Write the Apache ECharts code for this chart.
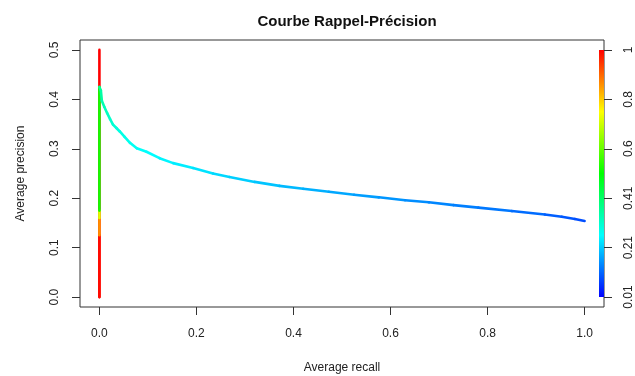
<!DOCTYPE html>
<html>
<head>
<meta charset="utf-8">
<script src="https://cdn.jsdelivr.net/npm/echarts@6/dist/echarts.min.js"></script>
<style>
  html, body { margin: 0; padding: 0; background: #fff; }
  #chart { width: 635px; height: 376px; }
</style>
</head>
<body>
<div id="chart"></div>
<script>
// Averaged precision / recall points, in drawing order, with the cutoff of each point
const recall = [
  0, 0, 0, 0, 0,
  0.000, 0.003, 0.005, 0.010, 0.016, 0.022, 0.028, 0.035, 0.042, 0.052,
  0.063, 0.077, 0.097, 0.124, 0.152, 0.193, 0.234, 0.268, 0.320, 0.371,
  0.420, 0.473, 0.525, 0.576, 0.630, 0.679, 0.730, 0.781, 0.850, 0.918,
  0.953, 0.980, 1.000
];
const precision = [
  0.500, 0.000, 0.125, 0.160, 0.175,
  0.425, 0.418, 0.397, 0.385, 0.372, 0.360, 0.349, 0.342, 0.335, 0.324,
  0.312, 0.301, 0.294, 0.281, 0.271, 0.261, 0.250, 0.243, 0.233, 0.225,
  0.219, 0.213, 0.207, 0.2018, 0.196, 0.1917, 0.186, 0.181, 0.174, 0.167,
  0.1626, 0.158, 0.154
];
const cutoff = [
  1.00, 0.99, 0.86, 0.72, 0.52,
  0.360, 0.345, 0.335, 0.325, 0.315, 0.305, 0.298, 0.290, 0.284, 0.277,
  0.270, 0.263, 0.256, 0.248, 0.240, 0.230, 0.220, 0.210, 0.200, 0.190,
  0.181, 0.172, 0.163, 0.155, 0.147, 0.140, 0.133, 0.126, 0.115, 0.102,
  0.094, 0.086, 0.080
];

// Axis ticks
const xTicks = [0, 0.2, 0.4, 0.6, 0.8, 1.0];
const yTicks = [0, 0.1, 0.2, 0.3, 0.4, 0.5];
// Colour key range and ticks (cutoff values)
const cutoffMin = 0.01;
const cutoffMax = 1.0;
const keyTicks = [0.01, 0.208, 0.406, 0.604, 0.802, 1.0];

// Rainbow palette, low cutoff (blue) to high cutoff (red)
const palette = ['#0000ff', '#00ffff', '#00ff00', '#ffff00', '#ff0000'];

// Each segment joins point i to point i+1 and is coloured by the cutoff of point i
const segments = [];
for (let i = 0; i < recall.length - 1; i++) {
  segments.push([recall[i], precision[i], cutoff[i], recall[i + 1], precision[i + 1]]);
}

// Right-hand axis in cutoff units, aligned so the key spans the 0..0.5 precision range
const yMin = -0.02, yMax = 0.52;
const scale = (cutoffMax - cutoffMin) / (yTicks[yTicks.length - 1] - yTicks[0]);
const kMin = cutoffMin + (yMin - yTicks[0]) * scale;
const kMax = cutoffMin + (yMax - yTicks[0]) * scale;

const FONT = "'Liberation Sans', Arial, Helvetica, sans-serif";
const INK = '#222';

const chart = echarts.init(document.getElementById('chart'), null, { renderer: 'canvas' });

chart.setOption({
  animation: false,
  backgroundColor: '#fff',
  title: {
    text: 'Courbe Rappel-Précision',
    left: 342,
    top: 9,
    textAlign: 'center',
    textStyle: { fontFamily: FONT, fontSize: 15, fontWeight: 'bold', color: '#111' }
  },
  grid: {
    left: 80, right: 31, top: 40, bottom: 69,
    outerBoundsMode: 'none',
    containLabel: false,
    show: true, borderColor: '#333', borderWidth: 1, backgroundColor: 'transparent'
  },
  xAxis: {
    type: 'value',
    min: -0.04, max: 1.04,
    name: 'Average recall',
    nameLocation: 'middle',
    nameGap: 55,
    nameTextStyle: { fontFamily: FONT, fontSize: 12, color: INK },
    axisLine: { show: false, onZero: false },
    splitLine: { show: false },
    axisTick: { show: true, length: 8, customValues: xTicks, lineStyle: { color: '#333' } },
    axisLabel: {
      customValues: xTicks, margin: 21,
      fontFamily: FONT, fontSize: 12, color: INK,
      formatter: v => v.toFixed(1)
    }
  },
  yAxis: [{
    type: 'value',
    min: yMin, max: yMax,
    name: 'Average precision',
    nameLocation: 'middle',
    nameGap: 53,
    nameTextStyle: { fontFamily: FONT, fontSize: 12, color: INK },
    axisLine: { show: false, onZero: false },
    splitLine: { show: false },
    axisTick: { show: true, length: 8, customValues: yTicks, lineStyle: { color: '#333' } },
    axisLabel: {
      customValues: yTicks, margin: 19, rotate: 90,
      fontFamily: FONT, fontSize: 12, color: INK,
      formatter: v => v.toFixed(1)
    }
  }, {
    type: 'value',
    position: 'right',
    min: kMin, max: kMax,
    axisLine: { show: false, onZero: false },
    splitLine: { show: false },
    axisTick: { show: true, length: 8, customValues: keyTicks, lineStyle: { color: '#333' } },
    axisLabel: {
      customValues: keyTicks, margin: 19, rotate: 90,
      fontFamily: FONT, fontSize: 12, color: INK,
      formatter: v => String(parseFloat(v.toFixed(2)))
    }
  }],
  visualMap: {
    type: 'continuous',
    show: false,
    seriesIndex: 0,
    dimension: 2,
    min: cutoffMin,
    max: cutoffMax,
    inRange: { color: palette }
  },
  series: [{
    // precision / recall curve, coloured by cutoff
    type: 'custom',
    coordinateSystem: 'cartesian2d',
    xAxisIndex: 0,
    yAxisIndex: 0,
    encode: { x: [0, 3], y: [1, 4] },
    data: segments,
    renderItem: function (params, api) {
      const a = api.coord([api.value(0), api.value(1)]);
      const b = api.coord([api.value(3), api.value(4)]);
      return {
        type: 'line',
        shape: { x1: a[0], y1: a[1], x2: b[0], y2: b[1] },
        style: { stroke: api.visual('color'), lineWidth: 2.6, lineCap: 'round' }
      };
    }
  }, {
    // colour key along the right edge, spanning the cutoff range
    type: 'custom',
    coordinateSystem: 'cartesian2d',
    xAxisIndex: 0,
    yAxisIndex: 1,
    silent: true,
    encode: { y: [0, 1] },
    data: [[cutoffMin, cutoffMax]],
    renderItem: function (params, api) {
      const cs = params.coordSys;
      const lo = api.coord([0, api.value(0)]);
      const hi = api.coord([0, api.value(1)]);
      const w = 5;
      const stops = palette.map((c, i) => ({ offset: i / (palette.length - 1), color: c }));
      return {
        type: 'rect',
        shape: { x: cs.x + cs.width - w, y: hi[1], width: w, height: lo[1] - hi[1] },
        style: { fill: new echarts.graphic.LinearGradient(0, 1, 0, 0, stops) }
      };
    }
  }]
});
</script>
</body>
</html>
